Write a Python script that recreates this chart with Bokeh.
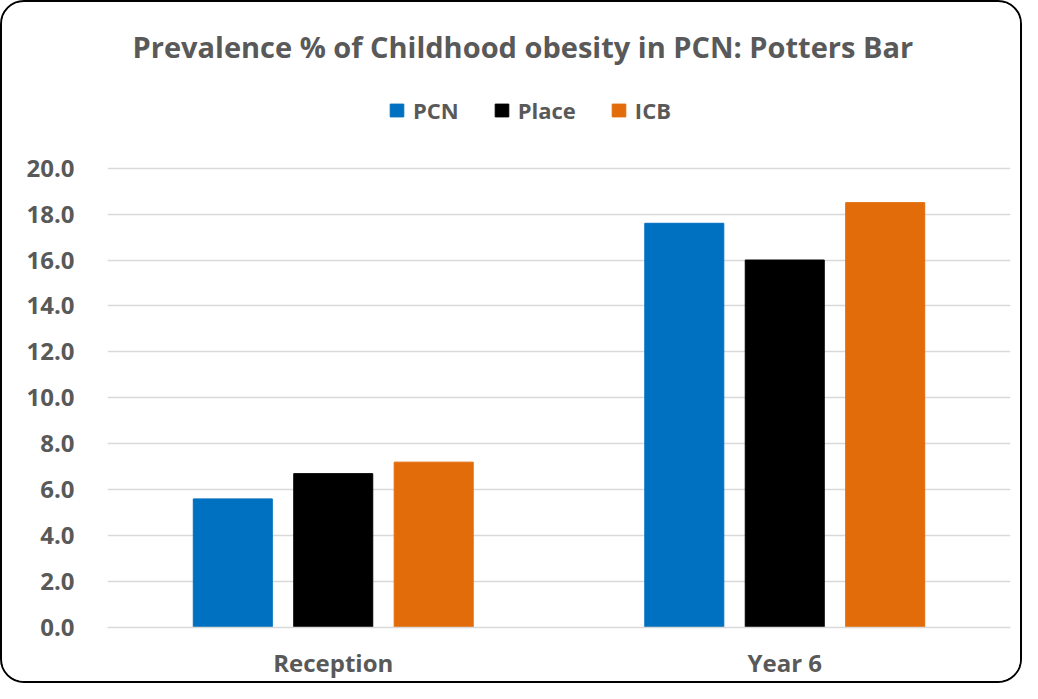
from bokeh.plotting import figure
from bokeh.layouts import column
from bokeh.models import (FactorRange, Range1d, Legend, LegendItem,
                          ColumnDataSource, FixedTicker, NumeralTickFormatter)
from bokeh.transform import dodge
from bokeh.embed import file_html
from bokeh.resources import INLINE

categories = ["Reception", "Year 6"]
pcn = [5.6, 17.6]
place = [6.7, 16.0]
icb = [7.2, 18.5]
series_names = ["PCN", "Place", "ICB"]
colors = ["#0070C0", "#000000", "#E36C0A"]
y_ticks = [0, 2, 4, 6, 8, 10, 12, 14, 16, 18, 20]
title_text = "Prevalence % of Childhood obesity in PCN: Potters Bar"

src = ColumnDataSource(dict(cat=categories, PCN=pcn, Place=place, ICB=icb))

W, H = 1018, 679
FONT = "Open Sans"
GREY = "#595959"

# frame spans y 0..23.6 so that the legend sits in the top strip above the 20 gridline
p = figure(x_range=FactorRange(*categories), y_range=Range1d(0, 23.6),
           width=W, height=H, output_backend="svg", toolbar_location=None,
           min_border_left=105, min_border_right=10, min_border_top=83,
           min_border_bottom=48)

offsets = [-0.2225, 0.0, 0.2225]
renderers = []
for name, col, off in zip(series_names, colors, offsets):
    r = p.vbar(x=dodge("cat", off, range=p.x_range), top=name, width=0.175,
               source=src, fill_color=col, line_color=col)
    renderers.append(r)

legend = Legend(items=[LegendItem(label=n, renderers=[r]) for n, r in zip(series_names, renderers)],
                orientation="horizontal", location=(281, 502),
                glyph_width=17, glyph_height=16, label_height=26,
                label_standoff=8, spacing=34, padding=0, margin=0,
                border_line_color=None, background_fill_alpha=0,
                label_text_font=FONT, label_text_font_style="bold",
                label_text_font_size="22px", label_text_color=GREY)
p.add_layout(legend, "center")

p.title.text = title_text
p.title.align = "left"
p.title.offset = 25
p.title.standoff = 39
p.title.text_font = FONT
p.title.text_font_style = "bold"
p.title.text_font_size = "29px"
p.title.text_color = GREY

p.yaxis.ticker = FixedTicker(ticks=y_ticks)
p.yaxis.formatter = NumeralTickFormatter(format="0.0")
p.yaxis.axis_line_color = None
p.yaxis.major_tick_line_color = None
p.yaxis.minor_tick_line_color = None
p.yaxis.major_label_standoff = 27
p.yaxis.major_label_text_font = FONT
p.yaxis.major_label_text_font_style = "bold"
p.yaxis.major_label_text_font_size = "24px"
p.yaxis.major_label_text_color = GREY

p.xaxis.axis_line_color = "#D9D9D9"
p.xaxis.axis_line_width = 1.5
p.xaxis.major_tick_line_color = None
p.xaxis.minor_tick_line_color = None
p.xaxis.major_label_standoff = 12
p.xaxis.major_label_text_font = FONT
p.xaxis.major_label_text_font_style = "bold"
p.xaxis.major_label_text_font_size = "24px"
p.xaxis.major_label_text_color = GREY

p.xgrid.grid_line_color = None
p.ygrid.grid_line_color = "#D9D9D9"
p.ygrid.grid_line_width = 1.5
p.outline_line_color = None

layout = column(p, styles={"border": "2px solid black", "border-radius": "24px",
                           "overflow": "hidden"})

open("out.html", "w").write(file_html(layout, INLINE))
